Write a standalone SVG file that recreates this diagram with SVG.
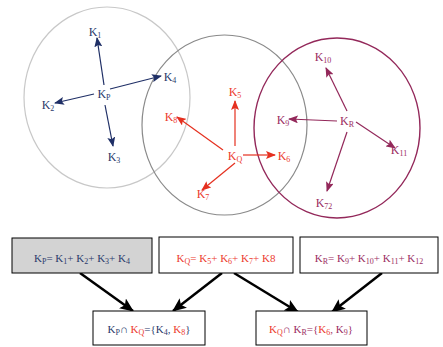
<svg xmlns="http://www.w3.org/2000/svg" width="443" height="347" viewBox="0 0 443 347">
<style>
.t{font-family:"Liberation Serif","Times New Roman",serif;font-size:12px;text-anchor:middle}
.b{font-family:"Liberation Serif","Times New Roman",serif;font-size:11px;text-anchor:middle}
.s{font-size:8px}
.nv{fill:#2b3a6b}.rd{fill:#ec3b2e}.pu{fill:#9b2d62}
.box{stroke:#000;stroke-width:1;fill:#fff}
.la{stroke-width:1.2;fill:none}
</style>
<defs>
<marker id="mn" markerWidth="10" markerHeight="8" refX="9" refY="4" orient="auto" markerUnits="userSpaceOnUse"><path d="M0,0 L10,4 L0,8 L2,4 Z" fill="#1f2f66"/></marker>
<marker id="mr" markerWidth="10" markerHeight="8" refX="9" refY="4" orient="auto" markerUnits="userSpaceOnUse"><path d="M0,0 L10,4 L0,8 L2,4 Z" fill="#e5301f"/></marker>
<marker id="mp" markerWidth="10" markerHeight="8" refX="9" refY="4" orient="auto" markerUnits="userSpaceOnUse"><path d="M0,0 L10,4 L0,8 L2,4 Z" fill="#93285a"/></marker>
<marker id="mb" markerWidth="14" markerHeight="12" refX="13" refY="6" orient="auto" markerUnits="userSpaceOnUse"><path d="M0,0 L14,6 L0,12 L3,6 Z" fill="#000"/></marker>
</defs>
<g id="circles">
<ellipse cx="107" cy="97.5" rx="83" ry="90.5" fill="none" stroke="#c8c8c8" stroke-width="1.2"/>
<ellipse cx="224.5" cy="125" rx="82.5" ry="90" fill="none" stroke="#8a8a8a" stroke-width="1.2"/>
<ellipse cx="337" cy="128" rx="83" ry="90" fill="none" stroke="#93285a" stroke-width="1.4"/>
</g>
<g id="connectors">
<line class="la" stroke="#1f2f66" x1="104" y1="85" x2="97" y2="38" marker-end="url(#mn)"/>
<line class="la" stroke="#1f2f66" x1="110" y1="89" x2="161" y2="76" marker-end="url(#mn)"/>
<line class="la" stroke="#1f2f66" x1="94" y1="94" x2="55" y2="103" marker-end="url(#mn)"/>
<line class="la" stroke="#1f2f66" x1="105" y1="105" x2="113" y2="146" marker-end="url(#mn)"/>
<line class="la" stroke="#e5301f" x1="235" y1="146" x2="235" y2="101" marker-end="url(#mr)"/>
<line class="la" stroke="#e5301f" x1="243" y1="155" x2="275" y2="155" marker-end="url(#mr)"/>
<line class="la" stroke="#e5301f" x1="223" y1="150" x2="177" y2="117" marker-end="url(#mr)"/>
<line class="la" stroke="#e5301f" x1="235" y1="163" x2="202" y2="190" marker-end="url(#mr)"/>
<line class="la" stroke="#93285a" x1="347" y1="111" x2="326" y2="68" marker-end="url(#mp)"/>
<line class="la" stroke="#93285a" x1="337" y1="121" x2="289" y2="119" marker-end="url(#mp)"/>
<line class="la" stroke="#93285a" x1="356" y1="122" x2="395" y2="148" marker-end="url(#mp)"/>
<line class="la" stroke="#93285a" x1="347" y1="132" x2="327" y2="191" marker-end="url(#mp)"/>
<line stroke="#000" stroke-width="2.5" x1="80" y1="273" x2="133" y2="311" marker-end="url(#mb)"/>
<line stroke="#000" stroke-width="2.5" x1="222" y1="273" x2="173" y2="311" marker-end="url(#mb)"/>
<line stroke="#000" stroke-width="2.5" x1="234" y1="273" x2="298" y2="312" marker-end="url(#mb)"/>
<line stroke="#000" stroke-width="2.5" x1="382" y1="273" x2="332" y2="312" marker-end="url(#mb)"/>
</g>
<g id="labelsP" class="nv">
<text class="t" x="95" y="36">K<tspan class="s" dy="2">1</tspan></text>
<text class="t" x="48" y="109">K<tspan class="s" dy="2">2</tspan></text>
<text class="t" x="114" y="161">K<tspan class="s" dy="2">3</tspan></text>
<text class="t" x="170" y="81">K<tspan class="s" dy="2">4</tspan></text>
<text class="t" x="104" y="98">K<tspan class="s" dy="2">P</tspan></text>
</g>
<g id="labelsQ" class="rd">
<text class="t" x="235" y="96">K<tspan class="s" dy="2">5</tspan></text>
<text class="t" x="171" y="121">K<tspan class="s" dy="2">8</tspan></text>
<text class="t" x="235" y="160">K<tspan class="s" dy="2">Q</tspan></text>
<text class="t" x="284" y="160">K<tspan class="s" dy="2">6</tspan></text>
<text class="t" x="203" y="198">K<tspan class="s" dy="2">7</tspan></text>
</g>
<g id="labelsR" class="pu">
<text class="t" x="323" y="61">K<tspan class="s" dy="2">10</tspan></text>
<text class="t" x="283" y="124">K<tspan class="s" dy="2">9</tspan></text>
<text class="t" x="347" y="125">K<tspan class="s" dy="2">R</tspan></text>
<text class="t" x="399" y="154">K<tspan class="s" dy="2">11</tspan></text>
<text class="t" x="324" y="207">K<tspan class="s" dy="2">72</tspan></text>
</g>
<g id="boxP">
<rect x="12" y="238" width="140" height="35" fill="#d3d3d3" stroke="#000"/>
<text class="b nv" x="82" y="262">K<tspan class="s" dy="2">P</tspan><tspan dy="-2">= K</tspan><tspan class="s" dy="2">1</tspan><tspan dy="-2">+ K</tspan><tspan class="s" dy="2">2</tspan><tspan dy="-2">+ K</tspan><tspan class="s" dy="2">3</tspan><tspan dy="-2">+ K</tspan><tspan class="s" dy="2">4</tspan></text>
</g>
<g id="boxQ">
<rect class="box" x="159" y="237" width="134" height="36"/>
<text class="b rd" x="226" y="262">K<tspan class="s" dy="2">Q</tspan><tspan dy="-2">= K</tspan><tspan class="s" dy="2">5</tspan><tspan dy="-2">+ K</tspan><tspan class="s" dy="2">6</tspan><tspan dy="-2">+ K</tspan><tspan class="s" dy="2">7</tspan><tspan dy="-2">+ K8</tspan></text>
</g>
<g id="boxR">
<rect class="box" x="300" y="237" width="138" height="36"/>
<text class="b pu" x="369" y="262">K<tspan class="s" dy="2">R</tspan><tspan dy="-2">= K</tspan><tspan class="s" dy="2">9</tspan><tspan dy="-2">+ K</tspan><tspan class="s" dy="2">10</tspan><tspan dy="-2">+ K</tspan><tspan class="s" dy="2">11</tspan><tspan dy="-2">+ K</tspan><tspan class="s" dy="2">12</tspan></text>
</g>
<g id="boxPQ">
<rect class="box" x="93" y="311" width="112" height="34"/>
<text class="b" x="149" y="333"><tspan class="nv">K</tspan><tspan class="s nv" dy="2">P</tspan><tspan class="nv" dy="-2">∩ </tspan><tspan class="rd">K</tspan><tspan class="s rd" dy="2">Q</tspan><tspan class="nv" dy="-2">={K</tspan><tspan class="s nv" dy="2">4</tspan><tspan class="nv" dy="-2">, </tspan><tspan class="rd">K</tspan><tspan class="s rd" dy="2">8</tspan><tspan class="nv" dy="-2">}</tspan></text>
</g>
<g id="boxQR">
<rect class="box" x="256" y="311" width="111" height="34"/>
<text class="b" x="311" y="333"><tspan class="rd">K</tspan><tspan class="s rd" dy="2">Q</tspan><tspan class="pu" dy="-2">∩ K</tspan><tspan class="s pu" dy="2">R</tspan><tspan class="pu" dy="-2">={</tspan><tspan class="rd">K</tspan><tspan class="s rd" dy="2">6</tspan><tspan class="pu" dy="-2">, K</tspan><tspan class="s pu" dy="2">9</tspan><tspan class="pu" dy="-2">}</tspan></text>
</g>
</svg>
